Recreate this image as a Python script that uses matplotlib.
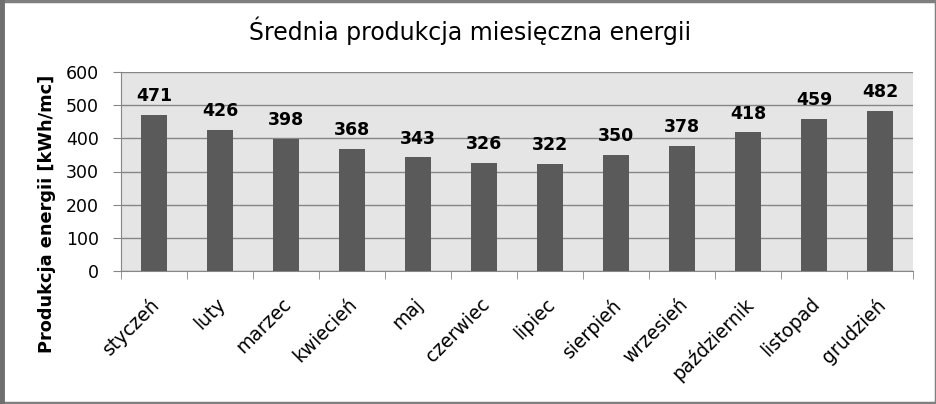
import matplotlib
matplotlib.use("Agg")
import matplotlib.pyplot as plt
from matplotlib.patches import Rectangle
from matplotlib.lines import Line2D
from matplotlib.transforms import ScaledTranslation
import numpy as np

# dane
miesiace = ["styczeń", "luty", "marzec", "kwiecień", "maj", "czerwiec",
            "lipiec", "sierpień", "wrzesień", "październik", "listopad", "grudzień"]
produkcja = [471, 426, 398, 368, 343, 326, 322, 350, 378, 418, 459, 482]
y_ticks = [0, 100, 200, 300, 400, 500, 600]

tytul = "Średnia produkcja miesięczna energii"
opis_y = "Produkcja energii [kWh/mc]"

KOLOR_SLUPKA = "#5a5a5a"
KOLOR_TLA = "#e5e5e5"
KOLOR_LINII = "#868686"

plt.rcParams['font.family'] = ['DejaVu Sans']

fig = plt.figure(figsize=(9.37, 4.04), dpi=100)
ax = fig.add_axes([121/937, 1 - 271/404, 792/937, 199/404])
ax.set_facecolor(KOLOR_TLA)

x = np.arange(len(miesiace))
bars = ax.bar(x, produkcja, width=0.4, color=KOLOR_SLUPKA, zorder=3)

for b, v in zip(bars, produkcja):
    ax.annotate(str(v), (b.get_x() + b.get_width() / 2, v),
                xytext=(0, 7), textcoords="offset points",
                ha="center", va="bottom", fontsize=12.5, fontweight="bold")

ax.set_xlim(-0.5, len(miesiace) - 0.5)
ax.set_ylim(0, 600)
ax.set_yticks(y_ticks)
ax.yaxis.grid(True, color=KOLOR_LINII, linewidth=1, zorder=1)
ax.set_axisbelow(True)

# etykiety miesiecy w srodku, kreski na granicach kategorii
ax.set_xticks(x)
ax.set_xticklabels(miesiace, rotation=45, ha="right", va="top",
                   rotation_mode="anchor", fontsize=13.5)
ax.set_xticks(np.arange(-0.5, len(miesiace)), minor=True)
ax.tick_params(axis="x", which="major", length=0, pad=17)
ax.tick_params(axis="x", which="minor", length=6, color=KOLOR_LINII)
ax.tick_params(axis="y", length=6, color=KOLOR_LINII, labelsize=12.5, pad=10)
for lab in ax.get_xticklabels():
    lab.set_transform(lab.get_transform() + ScaledTranslation(-3/72, 0, fig.dpi_scale_trans))

for s in ["top", "right"]:
    ax.spines[s].set_visible(False)
for s in ["left", "bottom"]:
    ax.spines[s].set_color(KOLOR_LINII)

fig.text(470/937, 1 - 31/404, tytul, ha="center", va="center", fontsize=17)
fig.text(47/937, 1 - 214/404, opis_y, ha="center", va="center",
         rotation=90, fontsize=12.8, fontweight="bold")

# ramka wykresu (lewa krawedz grubsza)
fig.patches.append(Rectangle((0.0015, 0.003), 0.997, 0.994, transform=fig.transFigure,
                             fill=False, edgecolor="#7f7f7f", linewidth=2.5))
fig.lines.append(Line2D([2.5/937, 2.5/937], [0, 1], transform=fig.transFigure,
                        color="#6f6f6f", linewidth=3.5))

fig.savefig("out.png", dpi=100)
